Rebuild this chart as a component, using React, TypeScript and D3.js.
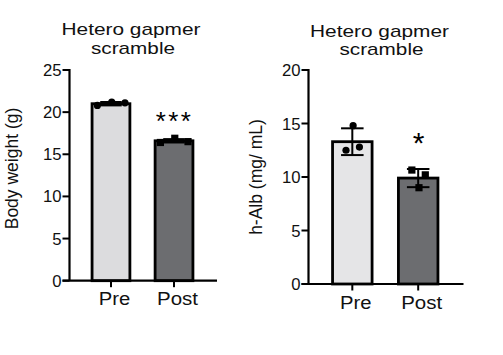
import React from "react";
import * as d3 from "d3";

const categories = ["Pre", "Post"];

// Panel 1: body weight
const bwMeans = [21.0, 16.6];
const bwSd = [0.2, 0.2];
const bwPoints = [
  [20.8, 21.2, 21.1],
  [16.4, 16.9, 16.5],
];
const bwTicks = [0, 5, 10, 15, 20, 25];
const bwSig = ["", "***"];

// Panel 2: h-Alb
const albMeans = [13.3, 9.9];
const albSd = [1.25, 0.85];
const albPoints = [
  [12.5, 14.8, 12.8],
  [10.65, 9.0, 10.2],
];
const albTicks = [0, 5, 10, 15, 20];
const albSig = ["", "*"];

const titleLines = ["Hetero gapmer", "scramble"];
const fills = ["#dcdcde", "#6c6d70"];
const fills2 = ["#e5e5e7", "#6c6d70"];
const FONT = "'Liberation Sans', Arial, Helvetica, sans-serif";

type PanelProps = {
  means: number[];
  sds: number[];
  points: number[][];
  ticks: number[];
  sig: string[];
  yMax: number;
  yLabel: string;
  xRange: [number, number];
  yRange: [number, number];
  axisX: number;
  axisEnd: number;
  titleX: number;
  titleY: number;
  labelX: number;
  labelY: number;
  jitter: number[];
  fillColors: string[];
  sigSize: number;
  sigOffset: number;
};

function Panel(p: PanelProps) {
  const x = d3
    .scaleBand<string>()
    .domain(categories)
    .range(p.xRange)
    .paddingInner(0.4)
    .paddingOuter(0.35);
  const y = d3.scaleLinear().domain([0, p.yMax]).range(p.yRange);
  const bw = x.bandwidth();
  const y0 = y(0);
  const yTop = y(p.yMax);
  const capW = bw * 0.57;
  const r = 3.6;
  return (
    <g fontFamily={FONT} fill="#111">
      <text x={p.titleX} y={p.titleY} textAnchor="middle" fontSize={17} textLength={139} lengthAdjust="spacingAndGlyphs">
        {titleLines[0]}
      </text>
      <text x={p.titleX + 2} y={p.titleY + 18.5} textAnchor="middle" fontSize={17} textLength={84} lengthAdjust="spacingAndGlyphs">
        {titleLines[1]}
      </text>
      <text
        transform={`translate(${p.labelX},${p.labelY}) rotate(-90)`}
        textAnchor="middle"
        fontSize={17.5}
      >
        {p.yLabel}
      </text>
      {/* bars */}
      {categories.map((c, i) => (
        <rect
          key={c}
          x={x(c)}
          y={y(p.means[i])}
          width={bw}
          height={y0 - y(p.means[i])}
          fill={p.fillColors[i]}
          stroke="#000"
          strokeWidth={2.8}
        />
      ))}
      {/* error bars */}
      {categories.map((c, i) => {
        const cx = (x(c) as number) + bw / 2;
        const hi = y(p.means[i] + p.sds[i]);
        const lo = y(p.means[i] - p.sds[i]);
        return (
          <g key={c} stroke="#000" strokeWidth={2}>
            <line x1={cx} x2={cx} y1={hi} y2={lo} />
            <line x1={cx - capW / 2} x2={cx + capW / 2} y1={hi} y2={hi} />
            <line x1={cx - capW / 2} x2={cx + capW / 2} y1={lo} y2={lo} />
          </g>
        );
      })}
      {/* points */}
      {categories.map((c, i) => {
        const cx = (x(c) as number) + bw / 2;
        return p.points[i].map((v, j) => {
          const px = cx + p.jitter[j] * bw;
          const py = y(v);
          return i === 0 ? (
            <circle key={c + j} cx={px} cy={py} r={r} fill="#000" />
          ) : (
            <rect key={c + j} x={px - r} y={py - r} width={2 * r} height={2 * r} fill="#000" />
          );
        });
      })}
      {/* significance */}
      {categories.map((c, i) =>
        p.sig[i] ? (
          <text
            key={c}
            x={(x(c) as number) + bw / 2 + 0.5}
            y={y(p.means[i] + p.sds[i]) - p.sigOffset}
            textAnchor="middle"
            fontSize={p.sigSize}
            letterSpacing={p.sig[i].length > 1 ? 2.4 : 0}
            fill="#000"
          >
            {p.sig[i]}
          </text>
        ) : null
      )}
      {/* y axis */}
      <line x1={p.axisX} x2={p.axisX} y1={yTop - 1} y2={y0} stroke="#000" strokeWidth={2.2} />
      {p.ticks.map((t) => (
        <g key={t}>
          <line x1={p.axisX - 7} x2={p.axisX} y1={y(t)} y2={y(t)} stroke="#000" strokeWidth={2} />
          <text x={p.axisX - 8} y={y(t)} dy="0.36em" textAnchor="end" fontSize={16.7}>
            {t}
          </text>
        </g>
      ))}
      {/* x axis */}
      <line x1={p.axisX - 7} x2={p.axisEnd} y1={y0} y2={y0} stroke="#000" strokeWidth={2.2} />
      {categories.map((c) => {
        const cx = (x(c) as number) + bw / 2;
        return (
          <g key={c}>
            <line x1={cx} x2={cx} y1={y0} y2={y0 + 6.5} stroke="#000" strokeWidth={2} />
            <text
              x={cx + 3.5}
              y={y0 + 24.5}
              textAnchor="middle"
              fontSize={17.5}
              textLength={c === "Pre" ? 31.5 : 41}
              lengthAdjust="spacingAndGlyphs"
            >
              {c}
            </text>
          </g>
        );
      })}
    </g>
  );
}

export default function App() {
  return (
    <svg
      width={503}
      height={355}
      style={{ position: "absolute", left: 0, top: 0, background: "#fff" }}
    >
      <rect width={503} height={355} fill="#fff" />
      <Panel
        means={bwMeans}
        sds={bwSd}
        points={bwPoints}
        ticks={bwTicks}
        sig={bwSig}
        yMax={25}
        yLabel="Body weight (g)"
        xRange={[70, 215]}
        yRange={[280.7, 70]}
        axisX={69.5}
        axisEnd={217}
        titleX={131}
        titleY={35}
        labelX={17.5}
        labelY={168.5}
        jitter={[-0.36, 0.02, 0.37]}
        fillColors={fills}
        sigSize={26}
        sigOffset={9}
      />
      <Panel
        means={albMeans}
        sds={albSd}
        points={albPoints}
        ticks={albTicks}
        sig={albSig}
        yMax={20}
        yLabel="h-Alb (mg/ mL)"
        xRange={[309.5, 461]}
        yRange={[284, 70]}
        axisX={308.5}
        axisEnd={463.5}
        titleX={379.5}
        titleY={36.5}
        labelX={262}
        labelY={177}
        jitter={[-0.16, 0.02, 0.18]}
        fillColors={fills2}
        sigSize={30}
        sigOffset={16}
      />
    </svg>
  );
}
